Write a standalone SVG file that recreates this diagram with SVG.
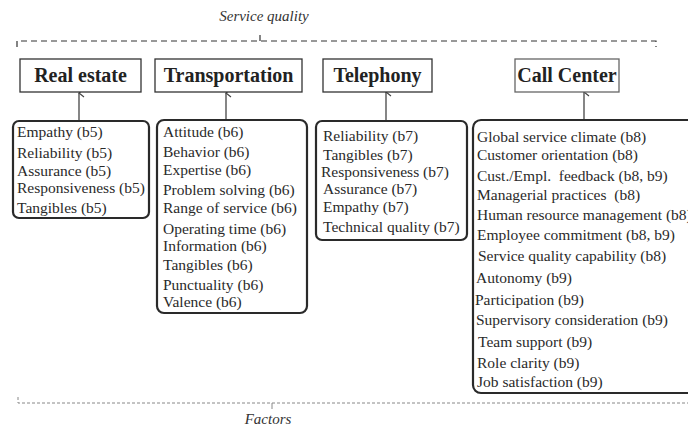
<svg xmlns="http://www.w3.org/2000/svg" width="688" height="431" viewBox="0 0 688 431">
<style>
.hdr{fill:#fff;stroke:#333;stroke-width:1.3}
.hdrt{font-family:"Liberation Serif","Tinos","Times New Roman","DejaVu Serif",serif;font-weight:bold;font-size:20px;fill:#222;text-anchor:middle}
.lst{fill:#fff;stroke:#2a2a2a;stroke-width:2.2}
.it{font-family:"Liberation Serif","Tinos","Times New Roman","DejaVu Serif",serif;font-size:15.5px;fill:#2a2a2a}
.cap{font-family:"Liberation Serif","Tinos","Times New Roman","DejaVu Serif",serif;font-style:italic;font-size:15px;fill:#333;text-anchor:middle}
.conn{stroke:#444;stroke-width:1.3;fill:none}
</style>
<defs>
<marker id="ah" markerWidth="10" markerHeight="10" refX="5" refY="1" orient="auto-start-reverse" markerUnits="userSpaceOnUse" viewBox="0 0 10 10">
<path d="M1,6 L5,1 L9,6" fill="none" stroke="#444" stroke-width="1.2"/>
</marker>
</defs>
<rect width="688" height="431" fill="#fff"/>
<text class="cap" x="264" y="21" font-family="Liberation Serif, serif">Service quality</text>
<text class="cap" x="268" y="424" font-family="Liberation Serif, serif">Factors</text>
<g id="brackets">
<path d="M17,47 L17,41 L656,41 L656,47" fill="none" stroke="#333" stroke-width="1.2" stroke-dasharray="6,4"/>
<path d="M260,41 L260,35" fill="none" stroke="#333" stroke-width="1.2"/>
<path d="M18,397 L18,403 L688,403" fill="none" stroke="#888" stroke-width="1" stroke-dasharray="3,2"/>
<path d="M272,403 L272,409" fill="none" stroke="#888" stroke-width="1"/>
</g>
<g id="connectors">
<line class="conn" x1="79" y1="121" x2="79" y2="93" marker-end="url(#ah)"/>
<line class="conn" x1="226" y1="120" x2="226" y2="93" marker-end="url(#ah)"/>
<line class="conn" x1="386" y1="121" x2="386" y2="92" marker-end="url(#ah)"/>
<line class="conn" x1="584" y1="120" x2="584" y2="92" marker-end="url(#ah)"/>
</g>
<g id="real-estate">
<rect class="hdr" x="20" y="59" width="121" height="33"/>
<text class="hdrt" x="80.5" y="82" font-family="Liberation Serif, serif">Real estate</text>
</g>
<g id="transportation">
<rect class="hdr" x="155" y="59" width="147" height="33"/>
<text class="hdrt" x="228.5" y="82" font-family="Liberation Serif, serif">Transportation</text>
</g>
<g id="telephony">
<rect class="hdr" x="323" y="59" width="109" height="33"/>
<text class="hdrt" x="377.5" y="82" font-family="Liberation Serif, serif">Telephony</text>
</g>
<g id="call-center">
<rect class="hdr" x="515" y="59" width="104" height="33" style="stroke:#666"/>
<text class="hdrt" x="567" y="82" font-family="Liberation Serif, serif">Call Center</text>
</g>
<g id="real-estate-factors" font-family="Liberation Serif, serif">
<rect class="lst" x="13" y="121" width="136" height="97" rx="6"/>
<text class="it" x="17" y="137">Empathy (b5)</text>
<text class="it" x="17" y="158">Reliability (b5)</text>
<text class="it" x="17" y="176">Assurance (b5)</text>
<text class="it" x="17" y="193">Responsiveness (b5)</text>
<text class="it" x="17" y="213">Tangibles (b5)</text>
</g>
<g id="transportation-factors" font-family="Liberation Serif, serif">
<rect class="lst" x="157" y="120" width="150" height="193" rx="7"/>
<text class="it" x="163" y="137">Attitude (b6)</text>
<text class="it" x="163" y="157">Behavior (b6)</text>
<text class="it" x="163" y="175">Expertise (b6)</text>
<text class="it" x="163" y="195">Problem solving (b6)</text>
<text class="it" x="163" y="213">Range of service (b6)</text>
<text class="it" x="163" y="234">Operating time (b6)</text>
<text class="it" x="163" y="251">Information (b6)</text>
<text class="it" x="163" y="270">Tangibles (b6)</text>
<text class="it" x="163" y="290">Punctuality (b6)</text>
<text class="it" x="163" y="307">Valence (b6)</text>
</g>
<g id="telephony-factors" font-family="Liberation Serif, serif">
<rect class="lst" x="316" y="121" width="151" height="119" rx="6"/>
<text class="it" x="323" y="141">Reliability (b7)</text>
<text class="it" x="323" y="160">Tangibles (b7)</text>
<text class="it" x="321" y="177">Responsiveness (b7)</text>
<text class="it" x="323" y="194">Assurance (b7)</text>
<text class="it" x="323" y="212">Empathy (b7)</text>
<text class="it" x="323" y="232">Technical quality (b7)</text>
</g>
<g id="call-center-factors" font-family="Liberation Serif, serif">
<rect class="lst" x="473" y="120" width="240" height="273" rx="8"/>
<text class="it" x="477" y="142">Global service climate (b8)</text>
<text class="it" x="477" y="160">Customer orientation (b8)</text>
<text class="it" x="477" y="181" xml:space="preserve">Cust./Empl.  feedback (b8, b9)</text>
<text class="it" x="477" y="200" xml:space="preserve">Managerial practices  (b8)</text>
<text class="it" x="477" y="220">Human resource management (b8)</text>
<text class="it" x="477" y="240">Employee commitment (b8, b9)</text>
<text class="it" x="478" y="261">Service quality capability (b8)</text>
<text class="it" x="476" y="283">Autonomy (b9)</text>
<text class="it" x="475" y="305">Participation (b9)</text>
<text class="it" x="476" y="325">Supervisory consideration (b9)</text>
<text class="it" x="478" y="347">Team support (b9)</text>
<text class="it" x="477" y="368">Role clarity (b9)</text>
<text class="it" x="477" y="387">Job satisfaction (b9)</text>
</g>
</svg>
